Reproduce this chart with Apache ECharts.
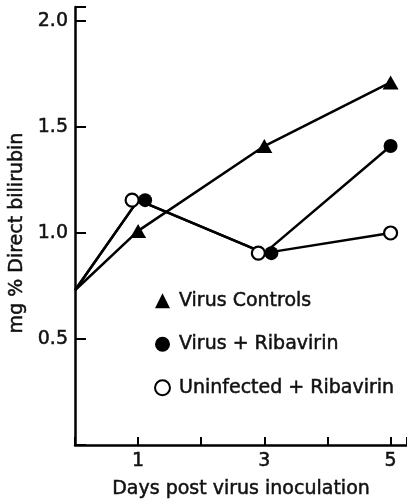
<!DOCTYPE html>
<html><head><meta charset="utf-8">
<script src="https://cdn.jsdelivr.net/npm/echarts@6/dist/echarts.min.js"></script>
<style>html,body{margin:0;padding:0;background:#fff}#c{width:407px;height:500px}</style>
</head><body><div id="c"></div>
<script>
// Data
const days = [0, 1, 3, 5];
const virusControls = [0.73, 1.01, 1.41, 1.71];
const virusRibavirin = [0.73, 1.155, 0.905, 1.41];
const uninfectedRibavirin = [0.73, 1.155, 0.905, 1.0];
const seriesNames = ['Virus Controls', 'Virus + Ribavirin', 'Uninfected + Ribavirin'];
const xTickLabels = ['1', '3', '5'];
const yTickLabels = ['0.5', '1.0', '1.5', '2.0'];

const FONT = 'DejaVu Sans';
const txt = { fontFamily: FONT, fontSize: 19, color: '#111', textBorderColor: '#111', textBorderWidth: 0.5 };

// first point (day 0) has no marker; markers of overlapping groups are nudged sideways
function pts(ys, offset) {
  return days.map((d, i) => {
    if (i === 0) return { value: [d, ys[i]], symbol: 'none' };
    if (offset && (d === 1 || d === 3)) return { value: [d, ys[i]], symbolOffset: [offset, 0] };
    return [d, ys[i]];
  });
}
const chart = echarts.init(document.getElementById('c'));
chart.setOption({
  animation: false,
  backgroundColor: '#fff',
  grid: { left: 75, right: 0, top: 7, bottom: 55, containLabel: false, outerBoundsMode: 'none' },
  xAxis: {
    type: 'value', min: 0, max: 5.26, interval: 1,
    name: 'Days post virus inoculation', nameLocation: 'middle', nameGap: 35,
    nameTextStyle: Object.assign({}, txt),
    axisLine: { lineStyle: { color: '#000', width: 2.5 } },
    axisTick: { inside: true, length: 8, lineStyle: { color: '#000', width: 2 } },
    axisLabel: Object.assign({}, txt, {
      margin: 7,
      formatter: v => xTickLabels.includes(String(v)) ? String(v) : ''
    }),
    splitLine: { show: false }
  },
  yAxis: {
    type: 'value', min: 0, max: 2.066, interval: 0.5,
    name: 'mg % Direct bilirubin', nameLocation: 'middle', nameGap: 43,
    nameTextStyle: Object.assign({}, txt, { padding: [0, 14, 0, 0] }),
    axisLine: { lineStyle: { color: '#000', width: 2.5 } },
    axisTick: { inside: true, length: 11, lineStyle: { color: '#000', width: 2 } },
    axisLabel: Object.assign({}, txt, {
      margin: 7,
      formatter: v => { const s = v.toFixed(1); return yTickLabels.includes(s) ? s : ''; }
    }),
    splitLine: { show: false }
  },
  legend: {
    orient: 'vertical', left: 149, top: 286, itemGap: 24,
    itemWidth: 15, itemHeight: 15,
    textStyle: Object.assign({}, txt, { padding: [0, 0, 0, 4] }),
    data: [
      { name: seriesNames[0], icon: 'triangle', itemStyle: { color: '#000', borderWidth: 0 } },
      { name: seriesNames[1], icon: 'circle', itemStyle: { color: '#000', borderWidth: 0 } },
      { name: seriesNames[2], icon: 'circle', itemStyle: { color: '#fff', borderColor: '#000', borderWidth: 2 } }
    ]
  },
  series: [
    {
      name: seriesNames[2], type: 'line', data: pts(uninfectedRibavirin, -6),
      symbol: 'circle', symbolSize: 13,
      lineStyle: { color: '#000', width: 2.5 },
      itemStyle: { color: '#fff', borderColor: '#000', borderWidth: 2.2 }
    },
    {
      name: seriesNames[0], type: 'line', data: pts(virusControls, 0),
      symbol: 'triangle', symbolSize: [16, 14],
      lineStyle: { color: '#000', width: 2.5 },
      itemStyle: { color: '#000', borderWidth: 0 }
    },
    {
      name: seriesNames[1], type: 'line', data: pts(virusRibavirin, 7),
      symbol: 'circle', symbolSize: 14,
      lineStyle: { color: '#000', width: 2.5 },
      itemStyle: { color: '#000', borderWidth: 0 }
    }
  ]
});
</script></body></html>
